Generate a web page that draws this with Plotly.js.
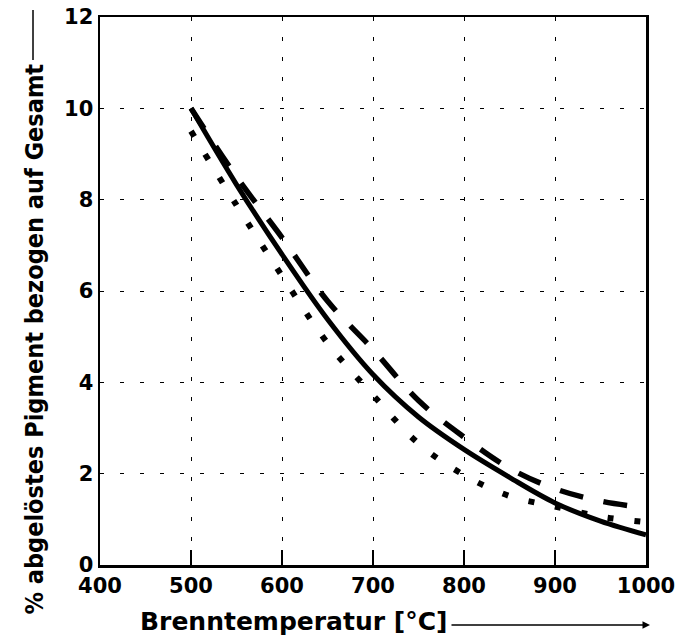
<!DOCTYPE html>
<html>
<head>
<meta charset="utf-8">
<script src="https://cdn.plot.ly/plotly-3.0.1.min.js"></script>
<style>html,body{margin:0;padding:0;background:#fff;}#chart{width:685px;height:644px;}</style>
</head>
<body>
<div id="chart"></div>
<script>
// Temperatures (°C)
const temps = [500, 550, 600, 650, 700, 750, 800, 850, 900, 950, 1000];
// Solid curve
const solidVals = [10.0, 8.33, 6.8, 5.38, 4.17, 3.24, 2.53, 1.92, 1.36, 0.96, 0.66];
// Dashed curve
const dashedVals = [10.0, 8.5, 7.17, 5.78, 4.72, 3.6, 2.8, 2.12, 1.67, 1.4, 1.25];
// Dotted curve
const dottedVals = [9.5, 7.88, 6.33, 4.86, 3.72, 2.66, 1.97, 1.51, 1.28, 1.06, 0.94];

const xTicks = [400, 500, 600, 700, 800, 900, 1000];
const yTicks = [0, 2, 4, 6, 8, 10, 12];

const xTitle = 'Brenntemperatur [°C]';
const yTitle = '% abgelöstes Pigment bezogen auf Gesamt';

const traces = [
  {x: temps, y: dashedVals, mode: 'lines', line: {color: '#000', width: 5.5, dash: '24px,21px', shape: 'spline'}, showlegend: false},
  {x: temps, y: dottedVals, mode: 'lines', line: {color: '#000', width: 6, dash: '6px,21px', shape: 'spline'}, showlegend: false},
  {x: temps, y: solidVals, mode: 'lines', line: {color: '#000', width: 5, shape: 'spline'}, showlegend: false}
];

const tickFont = {family: 'DejaVu Sans', size: 21, color: '#000', weight: 700};

const layout = {
  width: 685, height: 644,
  margin: {l: 100, r: 39, t: 17, b: 79},
  paper_bgcolor: '#fff', plot_bgcolor: '#fff',
  xaxis: {
    range: [400, 1000], tickvals: xTicks, ticktext: xTicks.map(String),
    showgrid: true, gridcolor: '#000', gridwidth: 1, griddash: '4px,16px',
    showline: true, linecolor: '#000', linewidth: 2.5, mirror: true,
    ticks: 'inside', ticklen: 15, tickwidth: 2, tickcolor: '#000',
    tickfont: tickFont, zeroline: false, fixedrange: true
  },
  yaxis: {
    range: [0, 12], tickvals: yTicks, ticktext: yTicks.map(String),
    showgrid: true, gridcolor: '#000', gridwidth: 1, griddash: '4px,16px',
    showline: true, linecolor: '#000', linewidth: 2.5, mirror: true,
    ticks: '', tickfont: tickFont, zeroline: false, fixedrange: true
  },
  annotations: [
    {text: xTitle, xref: 'paper', yref: 'paper', x: 0.0696, y: -0.104, xanchor: 'left', yanchor: 'middle',
     showarrow: false, font: {family: 'DejaVu Sans', size: 25, color: '#000', weight: 700}},
    {text: '', xref: 'paper', yref: 'paper', x: 1.0073, y: -0.1095, ax: -200, ay: 0,
     showarrow: true, arrowhead: 2, arrowsize: 1, arrowwidth: 1.5, arrowcolor: '#000', standoff: 0},
    {text: yTitle, xref: 'paper', yref: 'paper', x: -0.119, y: -0.095, xanchor: 'center', yanchor: 'bottom',
     textangle: -90, showarrow: false, font: {family: 'DejaVu Sans Condensed, DejaVu Sans', size: 25, color: '#000', weight: 700}}
  ],
  shapes: [
    {type: 'line', xref: 'paper', yref: 'paper', x0: -0.1227, x1: -0.1227, y0: 0.9215, y1: 1.0128, line: {color: '#000', width: 1.5}}
  ]
};

Plotly.newPlot('chart', traces, layout, {displayModeBar: false, staticPlot: true});
</script>
</body>
</html>
